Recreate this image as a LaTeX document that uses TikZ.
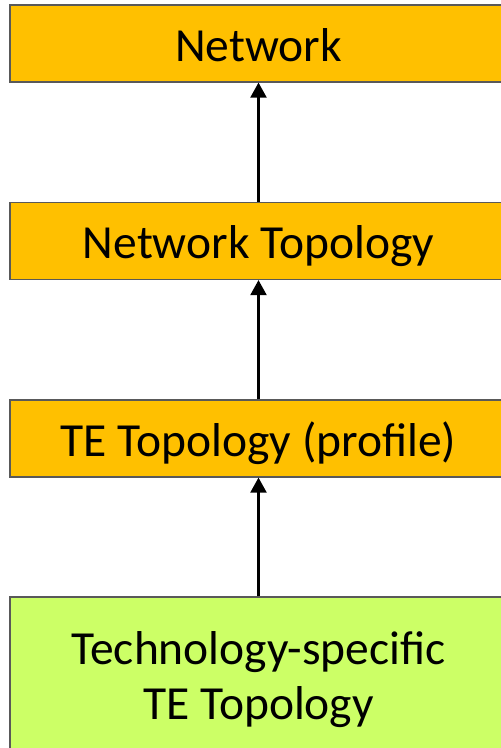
\documentclass[tikz,border=0pt]{standalone}
\usepackage{fontspec}
\setmainfont{Carlito}
\usepackage{tikz}
\usetikzlibrary{arrows.meta}
\usepackage{xcolor}
\definecolor{layerorange}{HTML}{FFC000}
\definecolor{techgreen}{HTML}{CCFF66}

\begin{document}
\begin{tikzpicture}[x=1pt, y=1pt,
    layer/.style={draw=black!65, line width=1.2pt, fill=layerorange,
                  minimum width=497pt, minimum height=77pt, inner sep=0pt,
                  font=\fontsize{47.5}{55}\selectfont},
    onerow/.style={text height=42pt, text depth=6pt},
    techlayer/.style={layer, fill=techgreen, minimum height=166pt, align=center},
    augments/.style={line width=2.2pt, -{Triangle[width=16pt, length=15pt]}}]
  \useasboundingbox (0,0) rectangle (501,748);
  \clip (0,0) rectangle (501,748);
  % stack of models, each one building on the one below
  \node[layer, onerow] (net) at (258.5,704.5) {Network};
  \node[layer, onerow] (nettopo) at (258.5,507) {Network Topology};
  \node[layer, onerow] (tetopo) at (258.5,309.5) {TE Topology (profile)};
  \node[techlayer] (techtopo) at (258.5,68) {Technology-specific\\TE Topology};
  \draw[augments] (nettopo) -- (net);
  \draw[augments] (tetopo) -- (nettopo);
  \draw[augments] (techtopo) -- (tetopo);
\end{tikzpicture}
\end{document}
